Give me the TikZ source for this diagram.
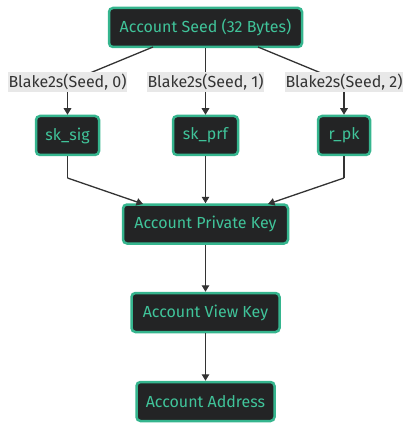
\documentclass[tikz,border=0pt]{standalone}
\usepackage{fontspec}
\setmainfont{Fira Sans}
\usetikzlibrary{arrows.meta}
\definecolor{boxfill}{HTML}{232425}
\definecolor{boxline}{HTML}{35B58E}
\definecolor{boxtext}{HTML}{40C49A}
\definecolor{lblbg}{HTML}{E8E8E8}
\definecolor{edge}{HTML}{333333}
\tikzset{
  keybox/.style={draw=boxline, line width=2.5pt, fill=boxfill, rounded corners=4pt,
    text=boxtext, font=\fontsize{16}{19}\selectfont, minimum height=39pt, inner xsep=0pt},
  elabel/.style={fill=lblbg, text=edge, font=\fontsize{16}{19}\selectfont, inner xsep=1pt, inner ysep=0pt, minimum height=20pt},
  conn/.style={draw=edge, line width=1.3pt, -{Triangle[length=6.5pt,width=7.5pt]}},
  connplain/.style={draw=edge, line width=1.3pt},
}
\begin{document}
\begin{tikzpicture}[x=1pt,y=-1pt]
\useasboundingbox (0,0) rectangle (413,430);
\node[keybox, minimum width=193pt] (seed) at (205.5,27.5) {Account Seed (32 Bytes)};
\node[keybox, minimum width=63pt] (sig) at (67.5,135.5) {sk\_sig};
\node[keybox, minimum width=65pt] (prf) at (205.5,135.5) {sk\_prf};
\node[keybox, minimum width=52pt] (rpk) at (344,135.5) {r\_pk};
\node[keybox, minimum width=165pt] (priv) at (205.5,224) {Account Private Key};
\node[keybox, minimum width=148pt] (view) at (205.5,312.5) {Account View Key};
\node[keybox, minimum width=138pt] (addr) at (205.5,401.5) {Account Address};
\coordinate (s0) at (153,47);
\coordinate (s2) at (258,47);
\coordinate (k0) at (90,73);
\coordinate (k2) at (321,73);
\coordinate (l0) at (67.5,86);
\coordinate (l2) at (344,86);
\coordinate (b0) at (67.5,178);
\coordinate (b2) at (344,178);
\coordinate (t0) at (143,204);
\coordinate (t2) at (268,204);
\draw[connplain] (s0) -- (k0) -- (l0);
\draw[connplain] (s2) -- (k2) -- (l2);
\draw[conn] (l0) -- (sig.north);
\draw[conn] (l2) -- (rpk.north);
\draw[conn] (seed.south) -- (prf.north);
\node[elabel] (lab0) at (67.5,82) {Blake2s(Seed, 0)};
\node[elabel] (lab1) at (205.5,82) {Blake2s(Seed, 1)};
\node[elabel] (lab2) at (344,82) {Blake2s(Seed, 2)};
\draw[connplain] (sig.south) -- (b0);
\draw[conn] (b0) -- (t0);
\draw[connplain] (rpk.south) -- (b2);
\draw[conn] (b2) -- (t2);
\draw[conn] (prf.south) -- (priv.north);
\draw[conn] (priv.south) -- (view.north);
\draw[conn] (view.south) -- (addr.north);
\end{tikzpicture}
\end{document}
